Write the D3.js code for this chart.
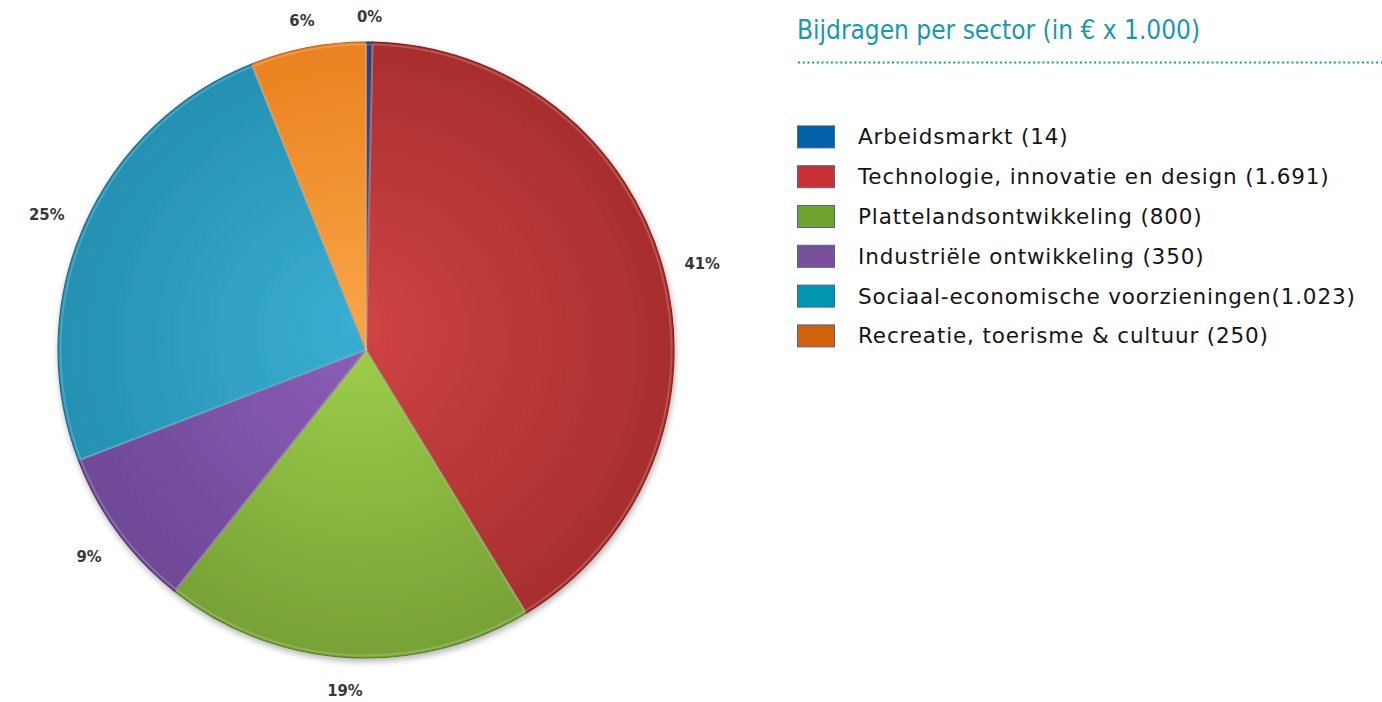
<!DOCTYPE html>
<html>
<head>
  <meta charset="utf-8">
  <title>Bijdragen per sector</title>
  <style>
    body { margin: 0; background: #fff; }
    svg { display: block; }
    .pct { font-family: "DejaVu Sans Condensed", "DejaVu Sans", sans-serif; font-weight: bold; font-size: 16.5px; fill: #383838; }
    .legend text { font-family: "DejaVu Sans", Verdana, sans-serif; font-size: 21.5px; letter-spacing: 0.85px; fill: #151515; }
    .title { font-family: "Liberation Sans Narrow", "DejaVu Sans Condensed", sans-serif; font-size: 26px; fill: #1798ad; }
  </style>
</head>
<body>
<script src="https://cdn.jsdelivr.net/npm/d3@7"></script>
<script>
  // data (values in euro x 1.000)
  const sectors = ["Arbeidsmarkt", "Technologie, innovatie en design", "Plattelandsontwikkeling",
                   "Industriële ontwikkeling", "Sociaal-economische voorzieningen", "Recreatie, toerisme & cultuur"];
  const values = [14, 1691, 800, 350, 1023, 250];
  const legendLabels = ["Arbeidsmarkt (14)", "Technologie, innovatie en design (1.691)", "Plattelandsontwikkeling (800)",
                        "Industriële ontwikkeling (350)", "Sociaal-economische voorzieningen(1.023)", "Recreatie, toerisme & cultuur (250)"];
  const pctLabels = ["0%", "41%", "19%", "9%", "25%", "6%"];

  // colours
  const swatchColors = ["#0060a8", "#c83234", "#72a22e", "#7a509c", "#0096b0", "#d0620c"];
  const sliceLight = ["#3a5ea0", "#d04444", "#a0d04c", "#8c5eb8", "#3aaed2", "#f9a444"];
  const sliceDark = ["#2a4282", "#a82e2e", "#76a236", "#6e4896", "#2490b2", "#ea8220"];

  const W = 1382, H = 702;
  const cx = 366, cy = 350, r = 308;

  const svg = d3.select("body").append("svg")
    .attr("width", W)
    .attr("height", H);

  const defs = svg.append("defs");

  // soft shadow under the pie
  const f = defs.append("filter").attr("id", "shadow")
    .attr("x", "-10%").attr("y", "-10%").attr("width", "120%").attr("height", "120%");
  f.append("feDropShadow")
    .attr("dx", 1).attr("dy", 3).attr("stdDeviation", 3)
    .attr("flood-color", "#000").attr("flood-opacity", 0.3);

  // one radial gradient per slice: lighter near the centre, darker at the rim
  // (coords are in the translated pie group, so the centre is 0,0)
  sectors.forEach(function(s, i) {
    const g = defs.append("radialGradient")
      .attr("id", "grad" + i)
      .attr("gradientUnits", "userSpaceOnUse")
      .attr("cx", 0).attr("cy", 0).attr("r", r)
      .attr("fx", -15).attr("fy", -25);
    g.append("stop").attr("offset", "0%").attr("stop-color", sliceLight[i]);
    g.append("stop").attr("offset", "100%").attr("stop-color", sliceDark[i]);
  });

  const pie = d3.pie().sort(null).value(function(d) { return d; });
  const arcs = pie(values);

  const arc = d3.arc().innerRadius(0).outerRadius(r);

  const pieG = svg.append("g")
    .attr("transform", "translate(" + cx + "," + cy + ")");

  const slices = pieG.append("g").attr("filter", "url(#shadow)");

  slices.selectAll("path")
    .data(arcs)
    .enter().append("path")
    .attr("d", arc)
    .attr("fill", function(d, i) { return "url(#grad" + i + ")"; })
    .attr("stroke", function(d, i) { return d3.color(sliceDark[i]).darker(0.7); })
    .attr("stroke-width", 1.2)
    .attr("stroke-linejoin", "round");

  // thin light bevel just inside each slice
  const bevel = d3.arc().innerRadius(0).outerRadius(r - 2.5);
  pieG.append("g").selectAll("path")
    .data(arcs)
    .enter().append("path")
    .attr("d", bevel)
    .attr("fill", "none")
    .attr("stroke", "#fff")
    .attr("stroke-opacity", 0.18)
    .attr("stroke-width", 2);

  // percentage labels, pushed outward by half their box
  const base = 329;
  const labels = pieG.append("g").selectAll("text")
    .data(arcs)
    .enter().append("text")
    .attr("class", "pct")
    .attr("text-anchor", "middle")
    .attr("dominant-baseline", "central")
    .text(function(d, i) { return pctLabels[i]; });

  labels.each(function(d) {
    const bb = this.getBBox();
    const a = (d.startAngle + d.endAngle) / 2;
    const off = (bb.width / 2) * Math.abs(Math.sin(a)) + 7.5 * Math.abs(Math.cos(a));
    const rr = base + off;
    d3.select(this)
      .attr("x", rr * Math.sin(a))
      .attr("y", -rr * Math.cos(a) + 3.5);
  });

  // title and dotted rule
  svg.append("text")
    .attr("class", "title")
    .attr("x", 797)
    .attr("y", 38.5)
    .text("Bijdragen per sector (in € x 1.000)");

  svg.append("line")
    .attr("x1", 798).attr("x2", 1382)
    .attr("y1", 62.5).attr("y2", 62.5)
    .attr("stroke", "#1798ad")
    .attr("stroke-width", 2)
    .attr("stroke-dasharray", "2 2.7");

  // legend
  const yLeg = d3.scaleBand()
    .domain(sectors)
    .range([117, 117 + 6 * 39.8]);

  const legend = svg.append("g").attr("class", "legend");
  const row = legend.selectAll("g")
    .data(sectors)
    .enter().append("g")
    .attr("transform", function(d) { return "translate(797," + (yLeg(d) + yLeg.bandwidth() / 2) + ")"; });

  row.append("rect")
    .attr("x", 0.5).attr("y", -11)
    .attr("width", 37).attr("height", 22)
    .attr("fill", function(d, i) { return swatchColors[i]; })
    .attr("stroke", "#4a6890")
    .attr("stroke-width", 1);

  row.append("text")
    .attr("x", 61)
    .attr("y", 7.5)
    .text(function(d, i) { return legendLabels[i]; });
</script>
</body>
</html>
